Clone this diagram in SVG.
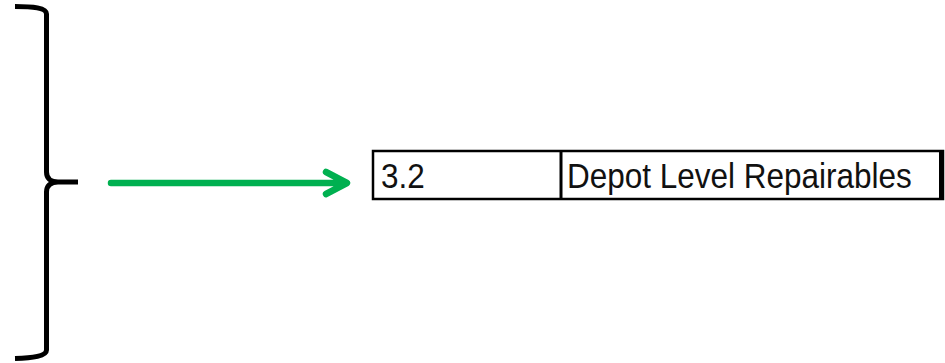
<svg xmlns="http://www.w3.org/2000/svg" width="945" height="363" viewBox="0 0 945 363">
<style>
.br{fill:none;stroke:#000;stroke-width:5;stroke-linecap:butt;stroke-linejoin:round}
.arr{fill:none;stroke:#00B050;stroke-width:6.5;stroke-linecap:round;stroke-linejoin:round}
.t{font-family:"Liberation Sans",Arial,sans-serif;font-size:35px;fill:#111}
</style>
<rect width="945" height="363" fill="#fff"/>
<g id="brace">
<path class="br" d="M15,6.5 C33,6.5 46.5,8 46.5,14 L46.5,172 C46.5,178 50,182 58,182 L78,182 M58,182 C50,182 46.5,186 46.5,192 L46.5,350 C46.5,356 33,358 15,358.5"/>
</g>
<g id="connectors">
<path class="arr" d="M111,183 L345,183 M326,172 L347,183 L326,194"/>
</g>
<g id="row">
<rect x="373" y="151" width="570" height="48" fill="#fff" stroke="#000" stroke-width="2.5"/>
<line x1="561" y1="152" x2="561" y2="199" stroke="#000" stroke-width="3"/>
<line x1="941" y1="152" x2="941" y2="199" stroke="#000" stroke-width="4"/>
<text class="t" transform="translate(381,188) scale(0.9,1)">3.2</text>
<text class="t" transform="translate(567,188) scale(0.9,1)">Depot Level Repairables</text>
</g>
</svg>
